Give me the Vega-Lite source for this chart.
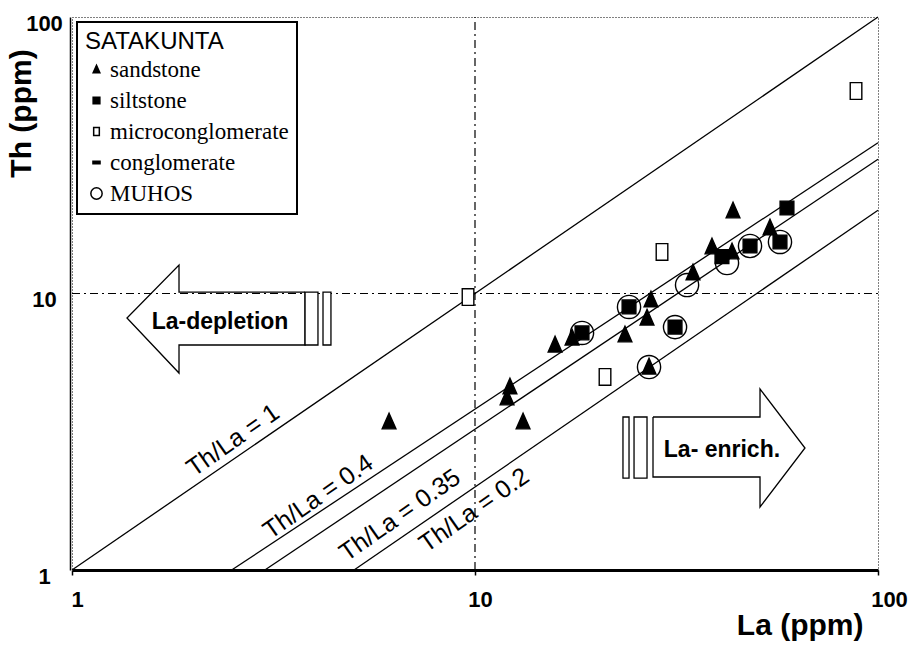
{
  "$schema": "https://vega.github.io/schema/vega-lite/v6.json",
  "width": 806,
  "height": 553,
  "autosize": {"type": "none"},
  "padding": {"left": 72, "top": 17, "right": 32, "bottom": 76},
  "background": "white",
  "config": {
    "view": {"stroke": "black", "strokeDash": [1, 2], "strokeWidth": 1},
    "font": "Liberation Sans",
    "legend": {"strokeWidth": 2}
  },
  "datasets": {
    "grid": [
      {"x": 10, "y": 1, "x2": 10, "y2": 100},
      {"x": 1, "y": 10, "x2": 100, "y2": 10}
    ],
    "ratios": [
      {"ratio": "1", "x": 1, "y": 1},
      {"ratio": "1", "x": 100, "y": 100},
      {"ratio": "0.4", "x": 2.49, "y": 1},
      {"ratio": "0.4", "x": 100, "y": 35.1},
      {"ratio": "0.35", "x": 3.01, "y": 1},
      {"ratio": "0.35", "x": 100, "y": 30.6},
      {"ratio": "0.2", "x": 5.01, "y": 1},
      {"ratio": "0.2", "x": 100, "y": 20.0}
    ],
    "ratioLabels": [
      {"label": "Th/La = 1", "x": 2.51, "y": 2.95},
      {"label": "Th/La = 0.4", "x": 4.08, "y": 1.84},
      {"label": "Th/La = 0.35", "x": 6.51, "y": 1.58},
      {"label": "Th/La = 0.2", "x": 9.95, "y": 1.65}
    ],
    "arrows": [
      {"arrow": "left", "i": 0, "x": 3.787, "y": 10.12},
      {"arrow": "left", "i": 1, "x": 1.843, "y": 10.12},
      {"arrow": "left", "i": 2, "x": 1.843, "y": 12.68},
      {"arrow": "left", "i": 3, "x": 1.369, "y": 8.155},
      {"arrow": "left", "i": 4, "x": 1.843, "y": 5.158},
      {"arrow": "left", "i": 5, "x": 1.843, "y": 6.513},
      {"arrow": "left", "i": 6, "x": 3.787, "y": 6.513},
      {"arrow": "left", "i": 7, "x": 3.787, "y": 10.12},
      {"arrow": "right", "i": 0, "x": 27.65, "y": 3.575},
      {"arrow": "right", "i": 1, "x": 50.96, "y": 3.575},
      {"arrow": "right", "i": 2, "x": 50.96, "y": 4.514},
      {"arrow": "right", "i": 3, "x": 65.89, "y": 2.762},
      {"arrow": "right", "i": 4, "x": 50.96, "y": 1.69},
      {"arrow": "right", "i": 5, "x": 50.96, "y": 2.169},
      {"arrow": "right", "i": 6, "x": 27.65, "y": 2.169},
      {"arrow": "right", "i": 7, "x": 27.65, "y": 3.575}
    ],
    "bars": [
      {"x": 3.787, "x2": 4.077, "y": 10.12, "y2": 6.513},
      {"x": 4.196, "x2": 4.391, "y": 10.12, "y2": 6.513},
      {"x": 23.29, "x2": 24.11, "y": 3.575, "y2": 2.15},
      {"x": 24.81, "x2": 26.72, "y": 3.575, "y2": 2.15}
    ],
    "arrowLabels": [
      {"label": "La-depletion", "x": 2.33, "y": 7.89},
      {"label": "La- enrich.", "x": 41.0, "y": 2.72}
    ],
    "points": [
      {"type": "sandstone", "x": 6.12, "y": 3.43},
      {"type": "sandstone", "x": 12.21, "y": 4.59},
      {"type": "sandstone", "x": 12.01, "y": 4.19},
      {"type": "sandstone", "x": 13.16, "y": 3.43},
      {"type": "sandstone", "x": 15.8, "y": 6.51},
      {"type": "sandstone", "x": 17.41, "y": 6.9},
      {"type": "sandstone", "x": 23.56, "y": 7.08},
      {"type": "sandstone", "x": 26.72, "y": 8.15},
      {"type": "sandstone", "x": 27.33, "y": 9.47},
      {"type": "sandstone", "x": 27.03, "y": 5.42},
      {"type": "sandstone", "x": 34.75, "y": 11.86},
      {"type": "sandstone", "x": 38.73, "y": 14.73},
      {"type": "sandstone", "x": 43.43, "y": 14.13},
      {"type": "sandstone", "x": 43.68, "y": 19.88},
      {"type": "sandstone", "x": 53.95, "y": 17.25},
      {"type": "siltstone", "x": 18.43, "y": 7.2},
      {"type": "siltstone", "x": 24.11, "y": 8.94},
      {"type": "siltstone", "x": 31.36, "y": 7.56},
      {"type": "siltstone", "x": 41.0, "y": 13.6},
      {"type": "siltstone", "x": 48.13, "y": 14.85},
      {"type": "siltstone", "x": 57.12, "y": 15.36},
      {"type": "siltstone", "x": 59.45, "y": 20.38},
      {"type": "microconglomerate", "x": 9.61, "y": 9.71},
      {"type": "microconglomerate", "x": 29.11, "y": 14.13},
      {"type": "microconglomerate", "x": 21.02, "y": 4.99},
      {"type": "microconglomerate", "x": 88.2, "y": 54.0},
      {"type": "MUHOS", "x": 18.43, "y": 7.2},
      {"type": "MUHOS", "x": 24.11, "y": 8.94},
      {"type": "MUHOS", "x": 31.36, "y": 7.56},
      {"type": "MUHOS", "x": 27.03, "y": 5.42},
      {"type": "MUHOS", "x": 33.59, "y": 10.73},
      {"type": "MUHOS", "x": 42.2, "y": 12.89},
      {"type": "MUHOS", "x": 48.13, "y": 14.85},
      {"type": "MUHOS", "x": 57.12, "y": 15.36}
    ]
  },
  "encoding": {
    "x": {
      "field": "x",
      "type": "quantitative",
      "scale": {"type": "log", "domain": [1, 100], "nice": false},
      "axis": {
        "values": [1, 10, 100],
        "format": "d",
        "grid": false,
        "domainColor": "black",
        "domainWidth": 3,
        "tickColor": "black",
        "tickSize": 5,
        "tickWidth": 1.5,
        "labelFont": "Liberation Sans",
        "labelFontSize": 22,
        "labelFontWeight": "bold",
        "labelColor": "black",
        "labelPadding": 14,
        "labelBaseline": "top",
        "labelFlush": false,
        "labelOverlap": false,
        "labelOffset": {"condition": {"test": "datum.value == 100", "value": 11}, "value": 5},
        "title": "La (ppm)",
        "titleFont": "Liberation Sans",
        "titleFontSize": 30,
        "titleFontWeight": "bold",
        "titleColor": "black",
        "titleX": 791,
        "titleY": 64,
        "titleAlign": "right",
        "titleBaseline": "alphabetic"
      }
    },
    "y": {
      "field": "y",
      "type": "quantitative",
      "scale": {"type": "log", "domain": [1, 100], "nice": false},
      "axis": {
        "values": [1, 10, 100],
        "format": "d",
        "grid": false,
        "offset": 2,
        "domainColor": "black",
        "domainWidth": 1.5,
        "ticks": false,
        "labelFont": "Liberation Sans",
        "labelFontSize": 22,
        "labelFontWeight": "bold",
        "labelColor": "black",
        "labelAlign": "center",
        "labelPadding": 26,
        "labelOffset": 6,
        "labelFlush": false,
        "labelOverlap": false,
        "title": "Th (ppm)",
        "titleFont": "Liberation Sans",
        "titleFontSize": 30,
        "titleFontWeight": "bold",
        "titleColor": "black",
        "titleAngle": -90,
        "titleX": -40,
        "titleY": 96,
        "titleAlign": "center",
        "titleBaseline": "alphabetic"
      }
    }
  },
  "layer": [
    {
      "data": {"name": "grid"},
      "mark": {"type": "rule", "stroke": "black", "strokeWidth": 1.2, "strokeDash": [8, 4, 2, 4]},
      "encoding": {"x2": {"field": "x2"}, "y2": {"field": "y2"}}
    },
    {
      "data": {"name": "ratios"},
      "mark": {"type": "line", "stroke": "black", "strokeWidth": 1.3},
      "encoding": {"detail": {"field": "ratio", "type": "nominal"}}
    },
    {
      "data": {"name": "arrows"},
      "mark": {"type": "line", "stroke": "black", "strokeWidth": 1.3},
      "encoding": {
        "detail": {"field": "arrow", "type": "nominal"},
        "order": {"field": "i", "type": "quantitative"}
      }
    },
    {
      "data": {"name": "bars"},
      "mark": {"type": "rect", "fill": "white", "stroke": "black", "strokeWidth": 1.3},
      "encoding": {"x2": {"field": "x2"}, "y2": {"field": "y2"}}
    },
    {
      "data": {"name": "ratioLabels"},
      "mark": {"type": "text", "angle": -35, "fontSize": 25, "font": "Liberation Sans", "align": "center", "baseline": "middle", "color": "black"},
      "encoding": {"text": {"field": "label", "type": "nominal"}}
    },
    {
      "data": {"name": "arrowLabels"},
      "mark": {"type": "text", "fontSize": 23, "fontWeight": "bold", "font": "Liberation Sans", "align": "center", "baseline": "middle", "color": "black"},
      "encoding": {"text": {"field": "label", "type": "nominal"}}
    },
    {
      "data": {"name": "points"},
      "mark": {"type": "point", "filled": true, "size": 210, "stroke": "black", "strokeWidth": 1.4, "opacity": 1},
      "encoding": {
        "shape": {
          "field": "type",
          "type": "nominal",
          "scale": {
            "domain": ["sandstone", "siltstone", "microconglomerate", "conglomerate", "MUHOS"],
            "range": [
              "M0,-1.2L0.95,0.95L-0.95,0.95Z",
              "M-0.95,-0.95H0.95V0.95H-0.95Z",
              "M-0.8,-1.15H0.8V1.15H-0.8Z",
              "M-1,-0.35H1V0.35H-1Z",
              "M1.6,0C1.6,0.884,0.884,1.6,0,1.6C-0.884,1.6,-1.6,0.884,-1.6,0C-1.6,-0.884,-0.884,-1.6,0,-1.6C0.884,-1.6,1.6,-0.884,1.6,0Z"
            ]
          },
          "legend": {
            "title": "SATAKUNTA",
            "orient": "top-left",
            "offset": 5,
            "padding": 8,
            "strokeColor": "black",
            "fillColor": "white",
            "titleFont": "Liberation Sans",
            "titleFontSize": 24,
            "titleFontWeight": "normal",
            "titleColor": "black",
            "titlePadding": 4,
            "labelFont": "Liberation Serif",
            "labelFontSize": 23,
            "labelColor": "black",
            "labelOffset": 2,
            "labelLimit": 300,
            "rowPadding": 7,
            "symbolSize": 50,
            "encode": {
              "symbols": {
                "update": {
                  "size": {"signal": "datum.value === 'MUHOS' ? 150 : 50"},
                  "fill": {"signal": "datum.value === 'microconglomerate' ? 'white' : (datum.value === 'MUHOS' ? 'transparent' : 'black')"},
                  "stroke": {"value": "black"},
                  "strokeWidth": {"value": 1.3},
                  "opacity": {"value": 1}
                }
              },
              "labels": {
                "update": {
                  "fontSize": {"signal": "datum.value === 'MUHOS' ? 28 : 23"}
                }
              }
            }
          }
        },
        "fill": {
          "field": "type",
          "type": "nominal",
          "scale": {
            "domain": ["sandstone", "siltstone", "microconglomerate", "conglomerate", "MUHOS"],
            "range": ["black", "black", "white", "black", "transparent"]
          },
          "legend": null
        },
        "order": {"field": "type", "type": "nominal", "sort": "descending"}
      }
    }
  ]
}
